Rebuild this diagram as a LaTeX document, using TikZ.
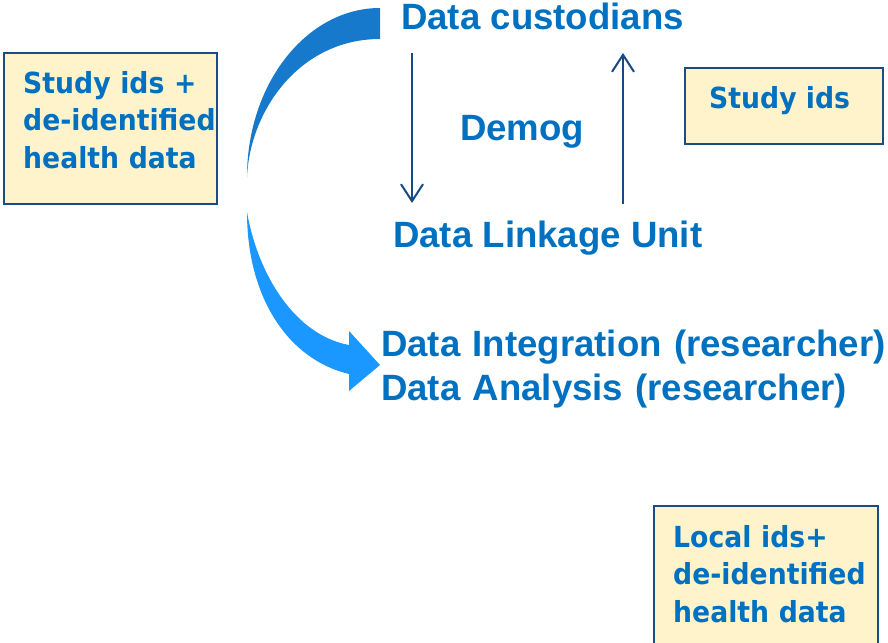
\documentclass[tikz,border=0pt]{standalone}
\usepackage{fontspec}
\usetikzlibrary{arrows.meta}
\newfontfamily\mainf{Liberation Sans}
\newfontfamily\boxf[FakeStretch=0.92]{DejaVu Sans}
\definecolor{txtblue}{HTML}{0070C0}
\definecolor{navy}{HTML}{174A84}
\definecolor{boxfill}{HTML}{FFF3CC}
\definecolor{boxline}{HTML}{1B4C86}
\definecolor{curvetop}{HTML}{1779CB}
\definecolor{curvebot}{HTML}{1A98FF}
\tikzset{
  maintext/.style={font=\mainf\bfseries\fontsize{36.6}{44}\selectfont, text=txtblue, inner sep=0pt, anchor=base west},
  boxtext/.style={font=\boxf\bfseries\fontsize{29}{37.5}\selectfont, text=txtblue, inner sep=0pt, anchor=base west, align=left},
  notebox/.style={draw=boxline, line width=2.2pt, fill=boxfill, inner sep=0pt, anchor=north west},
  thinarr/.style={draw=navy, line width=2pt, -{Straight Barb[length=17pt,width=22pt,line width=2pt]}},
}
\begin{document}
\begin{tikzpicture}[x=1pt,y=-1pt]
\useasboundingbox (0,0) rectangle (888,642);
% boxes
\node[notebox, minimum width=213pt, minimum height=151pt] (lbox) at (3,52) {};
\node[notebox, minimum width=198pt, minimum height=76pt] (rbox) at (684,67) {};
\node[notebox, minimum width=224pt, minimum height=150pt] (bbox) at (653,505) {};
\node[boxtext, text width=200pt] (ltext) at (23,93) {Study ids +\\de-identified\\health data};
\node[boxtext] (rtext) at (709,108) {Study ids};
\node[boxtext, text width=200pt] (btext) at (673,547) {Local ids+\\de-identified\\health data};
% main texts
\node[maintext] (cust) at (401,30) {Data custodians};
\node[maintext] (demog) at (460,140) {Demog};
\node[maintext] (link) at (393,247) {Data Linkage Unit};
\node[maintext, align=left, text width=505pt] (integ) at (381,356) {Data Integration (researcher)\\Data Analysis (researcher)};
% thin arrows
\coordinate (dn1) at (412,53);
\coordinate (dn2) at (412,203);
\coordinate (up1) at (623,204);
\coordinate (up2) at (623,53);
\draw[thinarr] (dn1) -- (dn2);
\draw[thinarr] (up1) -- (up2);
% curved arrows
\fill[curvetop] (380,8) .. controls (306.6,8) and (247,83.7) .. (247,177)
  .. controls (250,110) and (300,39) .. (380,39) -- cycle;
\fill[curvebot] (247,212) .. controls (247,300) and (290,360) .. (349,374)
  -- (349,391) -- (380,365) -- (349,331) -- (349,345)
  .. controls (295,335) and (258,275) .. (247,212) -- cycle;
\end{tikzpicture}
\end{document}
